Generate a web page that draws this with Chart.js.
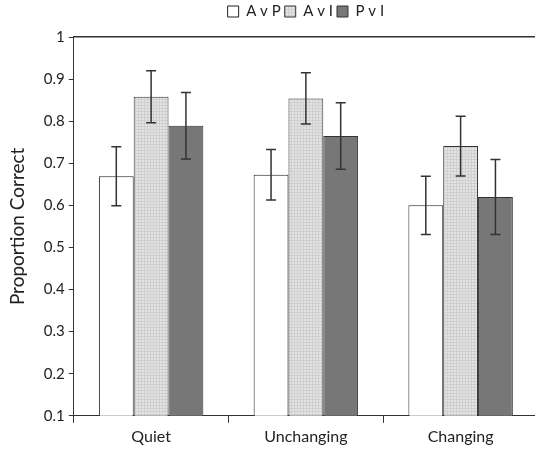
<!DOCTYPE html>
<html>
<head>
<meta charset="utf-8">
<script src="https://cdn.jsdelivr.net/npm/chart.js@4"></script>
<style>
  html, body { margin: 0; padding: 0; background: #fff; overflow: hidden; }
</style>
</head>
<body>
<canvas id="chart" width="590" height="450"></canvas>
<script>
const categories = ["Quiet", "Unchanging", "Changing"];
const seriesLabels = ["A v P", "A v I", "P v I"];
const avp = [0.669, 0.673, 0.600];
const avi = [0.858, 0.854, 0.741];
const pvi = [0.789, 0.765, 0.620];
const avpErr = [0.070, 0.060, 0.069];
const aviErr = [0.062, 0.061, 0.071];
const pviErr = [0.079, 0.079, 0.089];

// light grey fill with a faint grid, like the print
function makePattern() {
  const c = document.createElement("canvas");
  c.width = 3; c.height = 3;
  const g = c.getContext("2d");
  g.fillStyle = "#e4e4e4";
  g.fillRect(0, 0, 3, 3);
  g.fillStyle = "#cfcfcf";
  g.fillRect(0, 0, 3, 1);
  g.fillRect(0, 0, 1, 3);
  return g.createPattern(c, "repeat");
}

const errorBars = {
  id: "errorBars",
  afterDatasetsDraw(chart) {
    const ctx = chart.ctx;
    const y = chart.scales.y;
    const errs = [avpErr, aviErr, pviErr];
    ctx.save();
    ctx.strokeStyle = "#333";
    ctx.lineWidth = 1.5;
    chart.data.datasets.forEach((ds, di) => {
      chart.getDatasetMeta(di).data.forEach((bar, i) => {
        const top = y.getPixelForValue(ds.data[i] + errs[di][i]);
        const bot = y.getPixelForValue(ds.data[i] - errs[di][i]);
        ctx.beginPath();
        ctx.moveTo(bar.x, top); ctx.lineTo(bar.x, bot);
        ctx.moveTo(bar.x - 5, top); ctx.lineTo(bar.x + 5, top);
        ctx.moveTo(bar.x - 5, bot); ctx.lineTo(bar.x + 5, bot);
        ctx.stroke();
      });
    });
    ctx.restore();
  }
};

// center the legend over the plot area rather than the whole canvas
const legendShift = {
  id: "legendShift",
  afterLayout(chart) {
    const lg = chart.legend, a = chart.chartArea;
    const dx = (a.left + a.right) / 2 - (lg.left + lg.right) / 2;
    lg.left += dx;
    lg.right += dx;
  }
};

const font = "Lato, 'Open Sans', sans-serif";

new Chart(document.getElementById("chart"), {
  type: "bar",
  data: {
    labels: categories,
    datasets: [
      { label: seriesLabels[0], data: avp, backgroundColor: "#ffffff", borderColor: "#222", borderWidth: 1 },
      { label: seriesLabels[1], data: avi, backgroundColor: makePattern(), borderColor: "#333", borderWidth: 1 },
      { label: seriesLabels[2], data: pvi, backgroundColor: "#777777", borderColor: "#333", borderWidth: 1 },
    ],
  },
  options: {
    responsive: false,
    animation: false,
    layout: { padding: { top: 0, right: 52, left: 4, bottom: 0 } },
    datasets: { bar: { categoryPercentage: 0.675, barPercentage: 1 } },
    plugins: {
      legend: {
        position: "top",
        labels: { font: { family: font, size: 15 }, color: "#222", boxWidth: 11, boxHeight: 11, padding: 4 },
      },
      tooltip: { enabled: false },
    },
    scales: {
      x: {
        grid: { display: true, offset: true, drawOnChartArea: false, tickLength: 7, color: "#333" },
        border: { color: "#333" },
        ticks: { font: { family: font, size: 16 }, color: "#222", padding: 4 },
      },
      x2: {
        position: "top",
        grid: { display: false },
        ticks: { display: false },
        border: { color: "#333", width: 1.5 },
      },
      y: {
        min: 0.1,
        max: 1,
        ticks: {
          stepSize: 0.1,
          font: { family: font, size: 15 },
          color: "#222",
          padding: 4,
          callback: (v) => String(Number(v.toFixed(1))),
        },
        grid: { display: true, drawOnChartArea: false, tickLength: 5, color: "#333" },
        border: { color: "#333" },
        title: {
          display: true,
          text: "Proportion Correct",
          font: { family: font, size: 19 },
          color: "#222",
          padding: { top: 2, bottom: 11 },
        },
      },
    },
  },
  plugins: [errorBars, legendShift],
});
</script>
</body>
</html>
